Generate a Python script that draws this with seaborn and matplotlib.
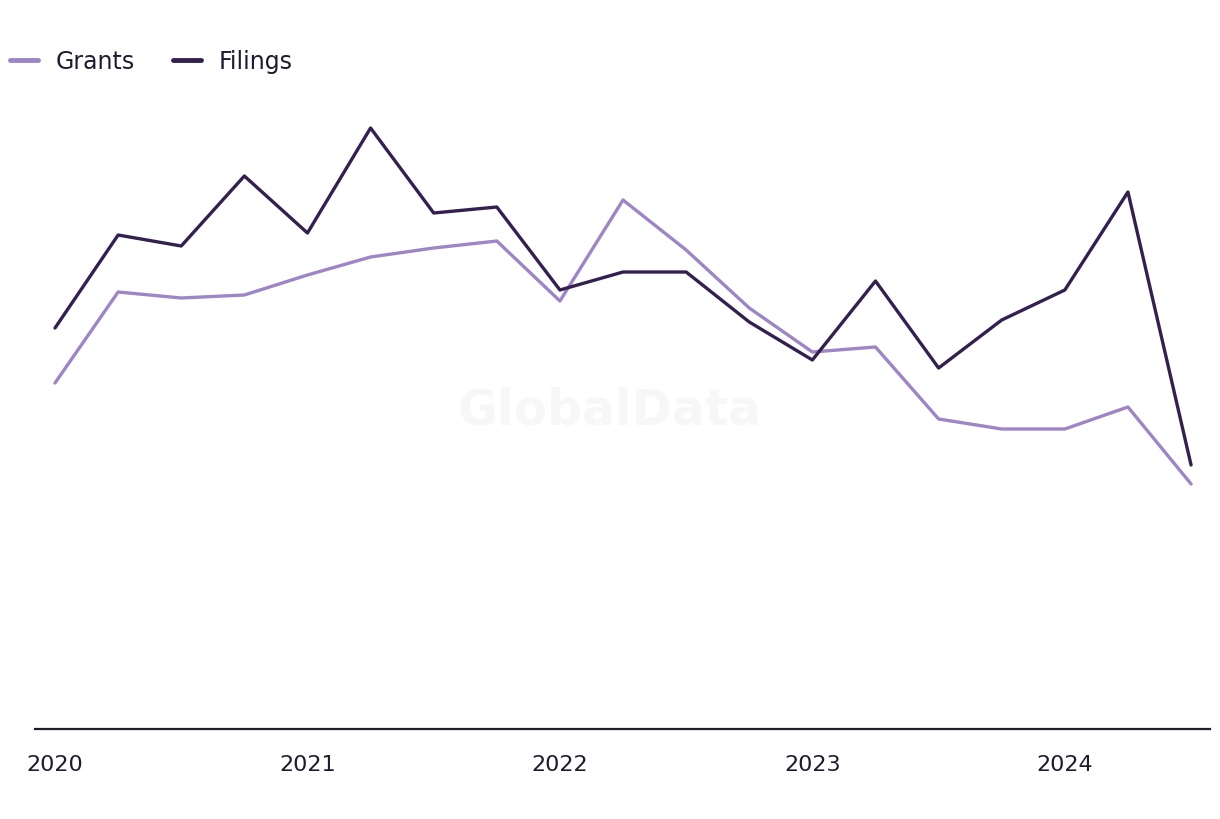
import pandas as pd
import matplotlib.pyplot as plt
import seaborn as sns
from matplotlib.lines import Line2D

# quarterly values, 2020 Q1 .. 2024 Q3 (no y scale shown, read as relative heights)
quarters = ["2020 Q1", "2020 Q2", "2020 Q3", "2020 Q4",
            "2021 Q1", "2021 Q2", "2021 Q3", "2021 Q4",
            "2022 Q1", "2022 Q2", "2022 Q3", "2022 Q4",
            "2023 Q1", "2023 Q2", "2023 Q3", "2023 Q4",
            "2024 Q1", "2024 Q2", "2024 Q3"]
grants = [346, 437, 431, 434, 454, 472, 481, 488, 428, 529, 479, 421,
          377, 382, 310, 300, 300, 322, 245]
filings = [401, 494, 483, 553, 496, 601, 516, 522, 439, 457, 457, 407,
           369, 448, 361, 409, 439, 537, 264]
year_ticks = [0, 4, 8, 12, 16]
year_labels = ["2020", "2021", "2022", "2023", "2024"]

df = pd.DataFrame({"idx": list(range(len(quarters))) * 2,
                   "value": grants + filings,
                   "series": ["Grants"] * len(grants) + ["Filings"] * len(filings)})

sns.set_style("white")
plt.rcParams["font.family"] = ["DejaVu Sans"]
text_col = "#1c1c2e"
c_grants = "#9d85c6"
c_filings = "#33204f"

fig = plt.figure(figsize=(12.2, 8.2), dpi=100)
ax = fig.add_axes([35 / 1220, 90 / 820, 1175 / 1220, 630 / 820])

sns.lineplot(data=df, x="idx", y="value", hue="series", ax=ax,
             palette={"Grants": c_grants, "Filings": c_filings},
             linewidth=2.4, legend=False)

ax.set_xlim(-0.317, 18.3)
ax.set_ylim(0, 630)
ax.set_xticks(year_ticks)
ax.set_xticklabels(year_labels, fontsize=16, color=text_col)
ax.tick_params(axis="x", length=0, pad=18)
ax.set_yticks([])
ax.set_xlabel("")
ax.set_ylabel("")
for s in ["top", "right", "left"]:
    ax.spines[s].set_visible(False)
ax.spines["bottom"].set_color(text_col)
ax.spines["bottom"].set_linewidth(1.6)

# watermark
ax.text(0.5, 1 - 411 / 820, "GlobalData", transform=fig.transFigure, ha="center", va="center",
        fontsize=35, fontweight="bold", color="#f7f7f7", zorder=0)

# legend
handles = [Line2D([], [], color=c_grants, lw=3.5, solid_capstyle="round"),
           Line2D([], [], color=c_filings, lw=3.5, solid_capstyle="round")]
leg = fig.legend(handles, ["Grants", "Filings"], loc="center left",
                 bbox_to_anchor=(10 / 1220, 1 - 62 / 820), ncol=2, frameon=False,
                 fontsize=17, handlelength=1.2, handletextpad=0.75, columnspacing=1.6,
                 borderaxespad=0, borderpad=0)
for t in leg.get_texts():
    t.set_color(text_col)

fig.savefig("out.png", dpi=100)
